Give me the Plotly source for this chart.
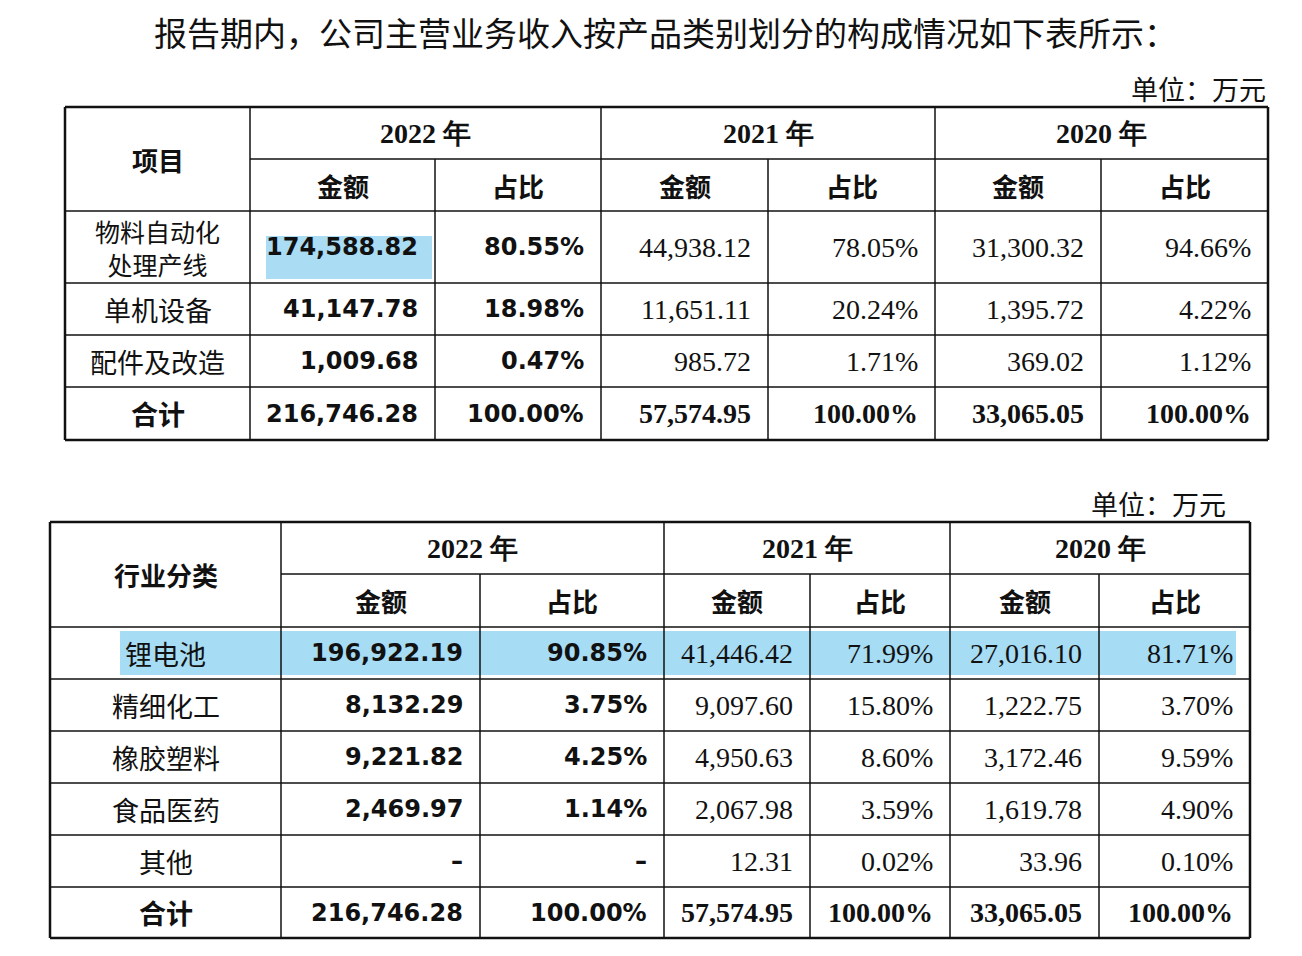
import plotly.graph_objects as go

title = "报告期内，公司主营业务收入按产品类别划分的构成情况如下表所示："
unit = "单位：万元"
years = ["2022 年", "2021 年", "2020 年"]
sub_heads = ["金额", "占比"]

# table 1: by product
t1_head = "项目"
t1_rows = ["物料自动化<br>处理产线", "单机设备", "配件及改造", "合计"]
t1_2022_amt = ["174,588.82", "41,147.78", "1,009.68", "216,746.28"]
t1_2022_pct = ["80.55%", "18.98%", "0.47%", "100.00%"]
t1_2021_amt = ["44,938.12", "11,651.11", "985.72", "57,574.95"]
t1_2021_pct = ["78.05%", "20.24%", "1.71%", "100.00%"]
t1_2020_amt = ["31,300.32", "1,395.72", "369.02", "33,065.05"]
t1_2020_pct = ["94.66%", "4.22%", "1.12%", "100.00%"]

# table 2: by industry
t2_head = "行业分类"
t2_rows = ["锂电池", "精细化工", "橡胶塑料", "食品医药", "其他", "合计"]
t2_2022_amt = ["196,922.19", "8,132.29", "9,221.82", "2,469.97", "–", "216,746.28"]
t2_2022_pct = ["90.85%", "3.75%", "4.25%", "1.14%", "–", "100.00%"]
t2_2021_amt = ["41,446.42", "9,097.60", "4,950.63", "2,067.98", "12.31", "57,574.95"]
t2_2021_pct = ["71.99%", "15.80%", "8.60%", "3.59%", "0.02%", "100.00%"]
t2_2020_amt = ["27,016.10", "1,222.75", "3,172.46", "1,619.78", "33.96", "33,065.05"]
t2_2020_pct = ["81.71%", "3.70%", "9.59%", "4.90%", "0.10%", "100.00%"]

CJK = "Noto Sans CJK SC"
SERIF = "Liberation Serif"

fig = go.Figure()
shapes, annos = [], []


def text(x, y, s, size=28, font=CJK, bold=False, anchor="center", color="#111"):
    if bold:
        s = "<b>" + s + "</b>"
    annos.append(dict(x=x, y=y, xref="x", yref="y", text=s, showarrow=False,
                      xanchor=anchor, yanchor="middle",
                      font=dict(family=font, size=size, color=color)))


def line(x0, y0, x1, y1, w=1.5):
    shapes.append(dict(type="line", x0=x0, y0=y0, x1=x1, y1=y1, xref="x", yref="y",
                       line=dict(color="#111", width=w), layer="above"))


def table(cx, ry, head, rows, cols):
    # outer frame
    line(cx[0], ry[0], cx[-1], ry[0], 2.5)
    line(cx[0], ry[-1], cx[-1], ry[-1], 2.5)
    line(cx[0], ry[0], cx[0], ry[-1], 2.5)
    line(cx[-1], ry[0], cx[-1], ry[-1], 2.5)
    # header
    line(cx[1], ry[1], cx[-1], ry[1])
    for i in range(1, len(cx) - 1):
        top = ry[0] if i % 2 == 1 else ry[1]
        line(cx[i], top, cx[i], ry[-1])
    for j in range(2, len(ry) - 1):
        line(cx[0], ry[j], cx[-1], ry[j])
    text((cx[0] + cx[1]) / 2, (ry[0] + ry[2]) / 2, head, bold=True, size=26)
    for k, yr in enumerate(years):
        text((cx[1 + 2 * k] + cx[3 + 2 * k]) / 2, (ry[0] + ry[1]) / 2, yr, font=SERIF, bold=True, size=28)
        for m, sh in enumerate(sub_heads):
            c = 1 + 2 * k + m
            text((cx[c] + cx[c + 1]) / 2, (ry[1] + ry[2]) / 2, sh, bold=True, size=26)
    for r, name in enumerate(rows):
        ym = (ry[2 + r] + ry[3 + r]) / 2
        last = r == len(rows) - 1
        two = "<br>" in name
        text((cx[0] + cx[1]) / 2, ym, name, bold=last, size=25 if two else 27)
        for c, col in enumerate(cols):
            text(cx[c + 2] - 15, ym, col[r], font=("DejaVu Sans" if c < 2 else SERIF),
                 bold=(c < 2 or last), size=(24 if c < 2 else 28), anchor="right")


text(665, 32, title, size=33)
text(1268, 88, unit, size=27, anchor="right")
text(1228, 503, unit, size=27, anchor="right")

# highlights
shapes.append(dict(type="rect", x0=266, y0=236, x1=432, y1=279, xref="x", yref="y",
                   fillcolor="#aadcf4", line=dict(width=0), layer="below"))
shapes.append(dict(type="rect", x0=120, y0=631, x1=1236, y1=675, xref="x", yref="y",
                   fillcolor="#a6dcf4", line=dict(width=0), layer="below"))

table([65, 250, 435, 601, 768, 935, 1101, 1268],
      [107, 159, 211, 283, 335, 387, 440],
      t1_head, t1_rows,
      [t1_2022_amt, t1_2022_pct, t1_2021_amt, t1_2021_pct, t1_2020_amt, t1_2020_pct])
table([50, 281, 480, 664, 810, 950, 1099, 1250],
      [522, 574, 627, 679, 731, 783, 835, 887, 938],
      t2_head, t2_rows,
      [t2_2022_amt, t2_2022_pct, t2_2021_amt, t2_2021_pct, t2_2020_amt, t2_2020_pct])

# page body has an 8px margin, so shift the ranges to keep pixel positions
fig.update_layout(
    width=1302, height=956, margin=dict(l=0, r=0, t=0, b=0),
    paper_bgcolor="white", plot_bgcolor="white",
    xaxis=dict(range=[8, 1310], visible=False, fixedrange=True),
    yaxis=dict(range=[964, 8], visible=False, fixedrange=True),
    shapes=shapes, annotations=annos, showlegend=False,
)
fig.write_html("out.html")
